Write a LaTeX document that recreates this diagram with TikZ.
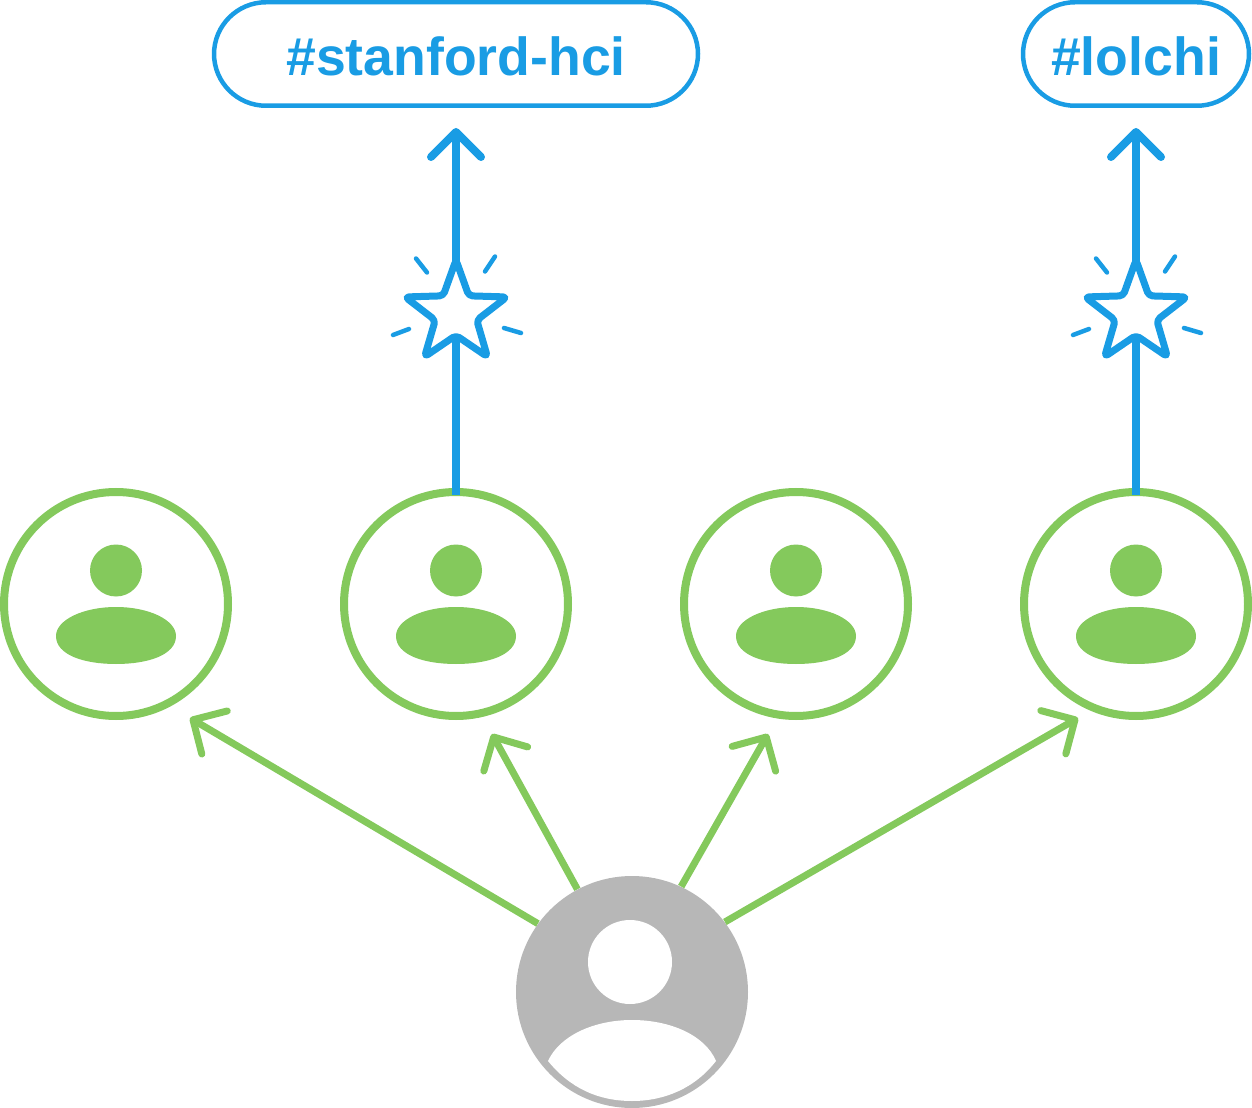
\documentclass[tikz,border=0pt]{standalone}
\usepackage{fontspec}
\setmainfont{Liberation Sans}
\usetikzlibrary{arrows.meta,shapes.geometric,positioning,calc}
\definecolor{tagblue}{HTML}{199CE4}
\definecolor{usergreen}{HTML}{84C95C}
\definecolor{viewergray}{HTML}{B7B7B7}
\newdimen\px
\px=0.02cm
\tikzset{
  tagbox/.style={draw=tagblue,line width=4.5\px,fill=white,rounded corners=52\px,minimum height=103.5\px,inner sep=0pt,text=tagblue,text height=44\px,text depth=0pt,font=\fontsize{30.5}{32}\selectfont\bfseries},
  usercircle/.style={circle,draw=usergreen,line width=8\px,fill=white,minimum size=224\px,inner sep=0pt},
  viewercircle/.style={circle,fill=viewergray,minimum size=232\px,inner sep=0pt},
  tagarrow/.style={draw=tagblue,line width=8\px,-{Straight Barb[round,length=0.5cm,width=1.0cm]},shorten <=-7\px,shorten >=20\px},
  followarrow/.style={draw=usergreen,line width=7\px,-{Straight Barb[round,length=0.5cm,width=1.0cm]}},
  sparkstar/.style={star,star points=5,star point ratio=2.45,draw=tagblue,fill=white,line width=7\px,line join=round,rounded corners=4\px,minimum size=107\px,inner sep=0pt},
  spark/.style={draw=tagblue,line width=4.5\px,line cap=round}
}
\begin{document}
\begin{tikzpicture}[x=0.02cm,y=-0.02cm]
\useasboundingbox (0,0) rectangle (1252,1108);

\node[tagbox,minimum width=484\px] (stanford) at (456,54) {\#stanford-hci};
\node[tagbox,minimum width=226\px] (lolchi) at (1136,54) {\#lolchi};

\node[usercircle] (user1) at (116,604) {};
\node[usercircle] (user2) at (456,604) {};
\node[usercircle] (user3) at (796,604) {};
\node[usercircle] (user4) at (1136,604) {};

\coordinate (tip1) at (190,718);
\coordinate (tip2) at (492,734);
\coordinate (tip3) at (768,734);
\coordinate (tip4) at (1078,718);

\node[viewercircle] (viewer) at (632,992) {};

\draw[tagarrow] (user2.north) -- (stanford.south -| user2.north);
\draw[tagarrow] (user4.north) -- (lolchi.south -| user4.north);

\node[sparkstar] (star1) at (456,313.5) {};
\node[sparkstar] (star2) at (1136,313.5) {};

\foreach \s in {star1,star2}
         {
\draw[spark] ($(\s)+(-40,-55)$) -- ($(\s)+(-29,-41)$);
\draw[spark] ($(\s)+(39,-57)$) -- ($(\s)+(29,-42)$);
\draw[spark] ($(\s)+(-63,21.5)$) -- ($(\s)+(-47,15.5)$);
\draw[spark] ($(\s)+(48,14.5)$) -- ($(\s)+(65,19.5)$);
}

\foreach \x in {116,456,796,1136}
         {
\fill[usergreen] (\x,570.5) circle (26);
\fill[usergreen] (\x-60,636) .. controls (\x-60,620) and (\x-33,607) .. (\x,607) .. controls (\x+33,607) and (\x+60,620) .. (\x+60,636) .. controls (\x+60,655) and (\x+32,664) .. (\x,664) .. controls (\x-32,664) and (\x-60,655) .. (\x-60,636) -- cycle;
}

\draw[followarrow] (viewer.144) -- (tip1);
\draw[followarrow] (viewer.118) -- (tip2);
\draw[followarrow] (viewer.65) -- (tip3);
\draw[followarrow] (viewer.37) -- (tip4);

% head and shoulders of the viewer
\fill[white] (630,962) circle (42);
\fill[white] (548,1061) .. controls (560,1035) and (595,1020) .. (632,1020) .. controls (670,1020) and (705,1035) .. (716,1061) .. controls (695,1088) and (665,1101) .. (632,1101) .. controls (598,1101) and (570,1088) .. (548,1061) -- cycle;

\end{tikzpicture}
\end{document}
